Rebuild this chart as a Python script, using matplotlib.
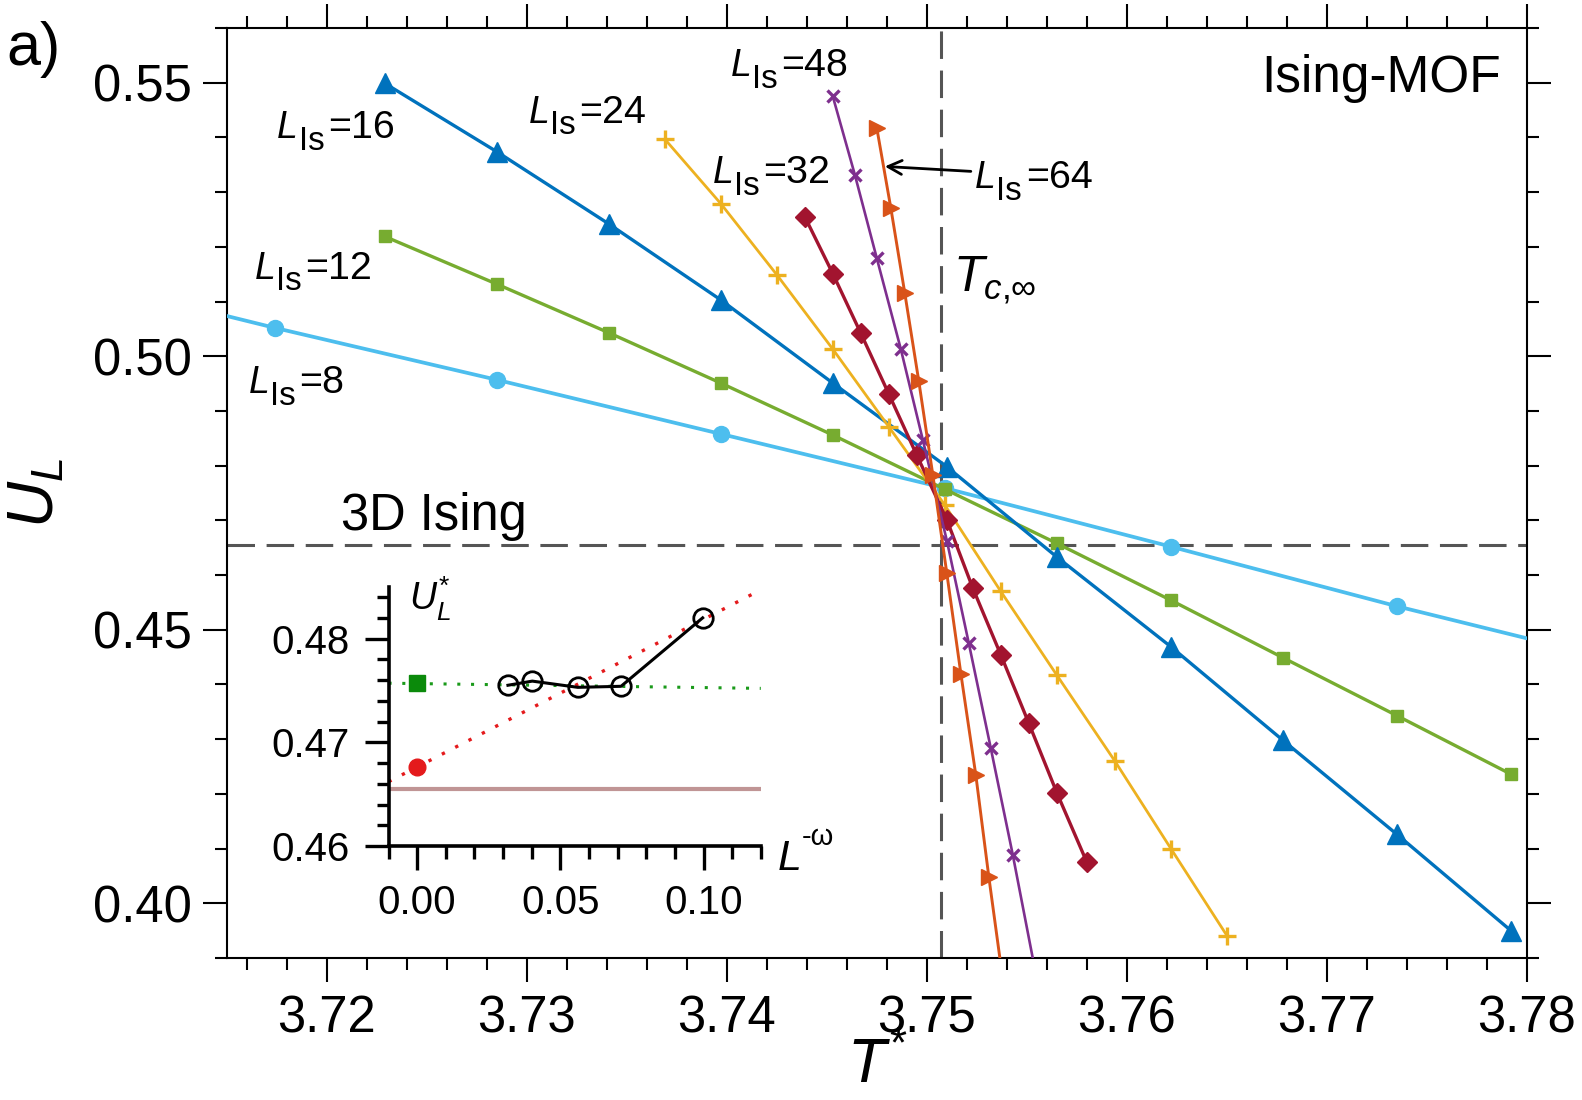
import numpy as np
import matplotlib
matplotlib.use("Agg")
import matplotlib.pyplot as plt
from matplotlib.ticker import MultipleLocator, FormatStrFormatter

plt.rcParams['font.family'] = ['Liberation Sans', 'DejaVu Sans']
plt.rcParams['mathtext.fontset'] = 'custom'
plt.rcParams['mathtext.rm'] = 'Liberation Sans'
plt.rcParams['mathtext.it'] = 'Liberation Sans:italic'
plt.rcParams['mathtext.bf'] = 'Liberation Sans:bold'

# --- Binder cumulant U_L vs T* for several lattice sizes ---
L8_T = [3.7061, 3.7174, 3.7285, 3.7397, 3.7509, 3.7622, 3.7735, 3.7848]
L8_U = [0.5154, 0.5052, 0.4957, 0.4858, 0.4759, 0.4652, 0.4543, 0.4441]

L12_T = [3.7229, 3.7285, 3.7341, 3.7397, 3.7453, 3.7509, 3.7565, 3.7622, 3.7678, 3.7735, 3.7792]
L12_U = [0.5219, 0.5132, 0.5043, 0.4951, 0.4856, 0.4757, 0.4658, 0.4554, 0.4449, 0.4343, 0.4236]

L16_T = [3.7229, 3.7285, 3.7341, 3.7397, 3.7453, 3.7510, 3.7565, 3.7622, 3.7678, 3.7735, 3.7792]
L16_U = [0.5499, 0.5374, 0.5242, 0.5103, 0.4951, 0.4798, 0.4633, 0.4469, 0.4298, 0.4126, 0.3950]

L24_T = [3.7369, 3.7397, 3.7425, 3.7453, 3.7481, 3.7509, 3.7537, 3.7565, 3.7594, 3.7622, 3.7650]
L24_U = [0.5397, 0.5279, 0.5149, 0.5013, 0.4871, 0.4728, 0.4570, 0.4417, 0.4260, 0.4100, 0.3941]

L32_T = [3.7439, 3.7453, 3.7467, 3.7481, 3.7495, 3.7510, 3.7523, 3.7537, 3.7551, 3.7565, 3.7580]
L32_U = [0.5255, 0.5151, 0.5042, 0.4931, 0.4819, 0.4701, 0.4576, 0.4454, 0.4329, 0.4202, 0.4075]

L48_T = [3.7453, 3.7464, 3.7475, 3.7487, 3.7498, 3.7510, 3.7521, 3.7532, 3.7543, 3.7554]
L48_U = [0.5475, 0.5332, 0.5179, 0.5013, 0.4847, 0.4663, 0.4475, 0.4283, 0.4088, 0.3880]

L64_T = [3.7475, 3.7482, 3.7489, 3.7496, 3.7503, 3.7510, 3.7517, 3.75245, 3.7531, 3.7538]
L64_U = [0.5417, 0.5271, 0.5115, 0.4954, 0.4783, 0.4603, 0.4420, 0.4234, 0.4048, 0.3860]

Tc_inf = 3.7507
U_ising3d = 0.4655

# --- inset: crossing values U*_L vs L^-omega ---
inset_x = [0.0317, 0.0402, 0.0561, 0.0712, 0.0997]
inset_u = [0.4755, 0.4759, 0.4753, 0.4754, 0.4820]
flat_fit_x = [-0.01, 0.12]
flat_fit_u = [0.4757, 0.4752]
flat_extrap = 0.4757
lin_fit_x = [-0.01, 0.12]
lin_fit_u = [0.4662, 0.4847]
lin_extrap = 0.4676

series = [
    (L8_T, L8_U, '#4DBEEE', 'o', 11.5, 2.7, 1.0),
    (L12_T, L12_U, '#77AC30', 's', 9, 2.4, 1.0),
    (L16_T, L16_U, '#0072BD', '^', 14, 2.4, 1.0),
    (L24_T, L24_U, '#EDB120', '+', 13, 2.0, 2.4),
    (L32_T, L32_U, '#A2142F', 'D', 10, 2.4, 1.0),
    (L48_T, L48_U, '#7E2F8E', 'x', 8, 1.9, 2.4),
    (L64_T, L64_U, '#D95319', '>', 11, 2.1, 1.0),
]


def size_label(axes, x, y, sub, tail, fs=27):
    # italic L, near full-size upright subscript, then the tail text
    t1 = axes.text(x, y, 'L', fontsize=fs, style='italic', va='baseline')
    t2 = axes.annotate(sub, xy=(1, 0), xycoords=t1, xytext=(0.5, -fs * 0.28),
                       textcoords='offset points', fontsize=fs * 0.88,
                       va='bottom', ha='left')
    axes.annotate(tail, xy=(1, 0), xycoords=(t2, t1), xytext=(2.5, 0),
                  textcoords='offset points', fontsize=fs * 1.05,
                  va='bottom', ha='left')


fig = plt.figure(figsize=(15.82, 11), dpi=100)
ax = fig.add_axes([0.1433, 0.1291, 0.9652 - 0.1433, 0.9745 - 0.1291])

ax.axhline(U_ising3d, color='#555555', lw=2.2, dashes=(9, 3.8), zorder=1)
ax.axvline(Tc_inf, color='#555555', lw=2.2, dashes=(9, 3.8), zorder=1)

for T, U, c, m, ms, lw, mew in series:
    ax.plot(T, U, color=c, marker=m, ms=ms, lw=lw, mew=mew, zorder=3)

ax.set_xlim(3.715, 3.78)
ax.set_ylim(0.39, 0.56)
ax.xaxis.set_major_locator(MultipleLocator(0.01))
ax.xaxis.set_minor_locator(MultipleLocator(0.002))
ax.yaxis.set_major_locator(MultipleLocator(0.05))
ax.yaxis.set_minor_locator(MultipleLocator(0.01))
ax.xaxis.set_major_formatter(FormatStrFormatter('%.2f'))
ax.yaxis.set_major_formatter(FormatStrFormatter('%.2f'))
ax.tick_params(which='both', direction='out', top=True, right=True, width=1.5)
ax.tick_params(which='major', length=17, labelsize=36.5)
ax.tick_params(which='minor', length=8.5)
ax.tick_params(axis='x', which='major', pad=9)
ax.tick_params(axis='y', which='major', pad=8)
for s in ax.spines.values():
    s.set_linewidth(1.5)

ax.set_xlabel(r'$T^{*}$', fontsize=45, labelpad=-5)
ax.set_ylabel(r'$U_L$', fontsize=46, labelpad=19)

size_label(ax, 3.71752, 0.5399, 'Is', '=16')
size_label(ax, 3.7164, 0.5142, 'Is', '=12')
size_label(ax, 3.7161, 0.4932, 'Is', '=8')
size_label(ax, 3.7301, 0.5427, 'Is', '=24')
size_label(ax, 3.7393, 0.5316, 'Is', '=32')
size_label(ax, 3.7402, 0.5512, 'Is', '=48')
size_label(ax, 3.7524, 0.5307, 'Is', '=64')
ax.annotate('', xy=(3.7479, 0.5347), xytext=(3.7522, 0.5338),
            arrowprops=dict(arrowstyle='->', lw=2, color='black', mutation_scale=25,
                            shrinkA=0, shrinkB=0))
ax.text(3.7513, 0.5118, r'$T_{c{,}\infty}$', fontsize=36, va='baseline')
ax.text(3.7787, 0.5484, 'Ising-MOF', fontsize=37, va='baseline', ha='right')
ax.text(3.7207, 0.4682, '3D Ising', fontsize=36.5, va='baseline')

fig.text(0.004, 0.955, 'a)', fontsize=44, va='center', ha='left')

# inset
ins = fig.add_axes([0.2456, 0.2309, 0.2353, 0.2357])
ins.set_facecolor('none')
ins.axhline(U_ising3d, color='#C09595', lw=3, zorder=1)
ins.plot(flat_fit_x, flat_fit_u, color='#1a9a1a', lw=2.2, dashes=(1, 3.5), zorder=2)
ins.plot(lin_fit_x, lin_fit_u, color='#E41A1C', lw=2.4, dashes=(1, 3.5), zorder=2)
ins.plot([0], [flat_extrap], 's', color='#0B8A0B', ms=12, zorder=4)
ins.plot([0], [lin_extrap], 'o', color='#E41A1C', ms=12, zorder=4)
ins.plot(inset_x, inset_u, color='black', lw=2.2, marker='o', ms=14, mfc='none',
         mec='black', mew=2, zorder=3)
ins.set_xlim(-0.01, 0.12)
ins.set_ylim(0.46, 0.485)
ins.spines['top'].set_visible(False)
ins.spines['right'].set_visible(False)
for s in ['left', 'bottom']:
    ins.spines[s].set_linewidth(2.6)
ins.xaxis.set_major_locator(MultipleLocator(0.05))
ins.xaxis.set_minor_locator(MultipleLocator(0.01))
ins.yaxis.set_major_locator(MultipleLocator(0.01))
ins.yaxis.set_minor_locator(MultipleLocator(0.002))
ins.xaxis.set_major_formatter(FormatStrFormatter('%.2f'))
ins.yaxis.set_major_formatter(FormatStrFormatter('%.2f'))
ins.tick_params(which='both', direction='out', width=2.4)
ins.tick_params(which='major', length=17, labelsize=29)
ins.tick_params(which='minor', length=9)
ins.tick_params(axis='x', which='major', pad=10)
ins.tick_params(axis='y', which='major', pad=11)
ins.text(0.055, 0.91, r'$U^{*}_{L}$', fontsize=27, transform=ins.transAxes, va='baseline')
tL = ins.text(1.045, -0.0926, 'L', fontsize=31, style='italic', transform=ins.transAxes,
              va='baseline', ha='left')
ins.annotate('-ω', xy=(1, 0), xycoords=tL, xytext=(0.5, 20), textcoords='offset points',
             fontsize=21, va='bottom', ha='left')

fig.savefig('out.png', dpi=100)
